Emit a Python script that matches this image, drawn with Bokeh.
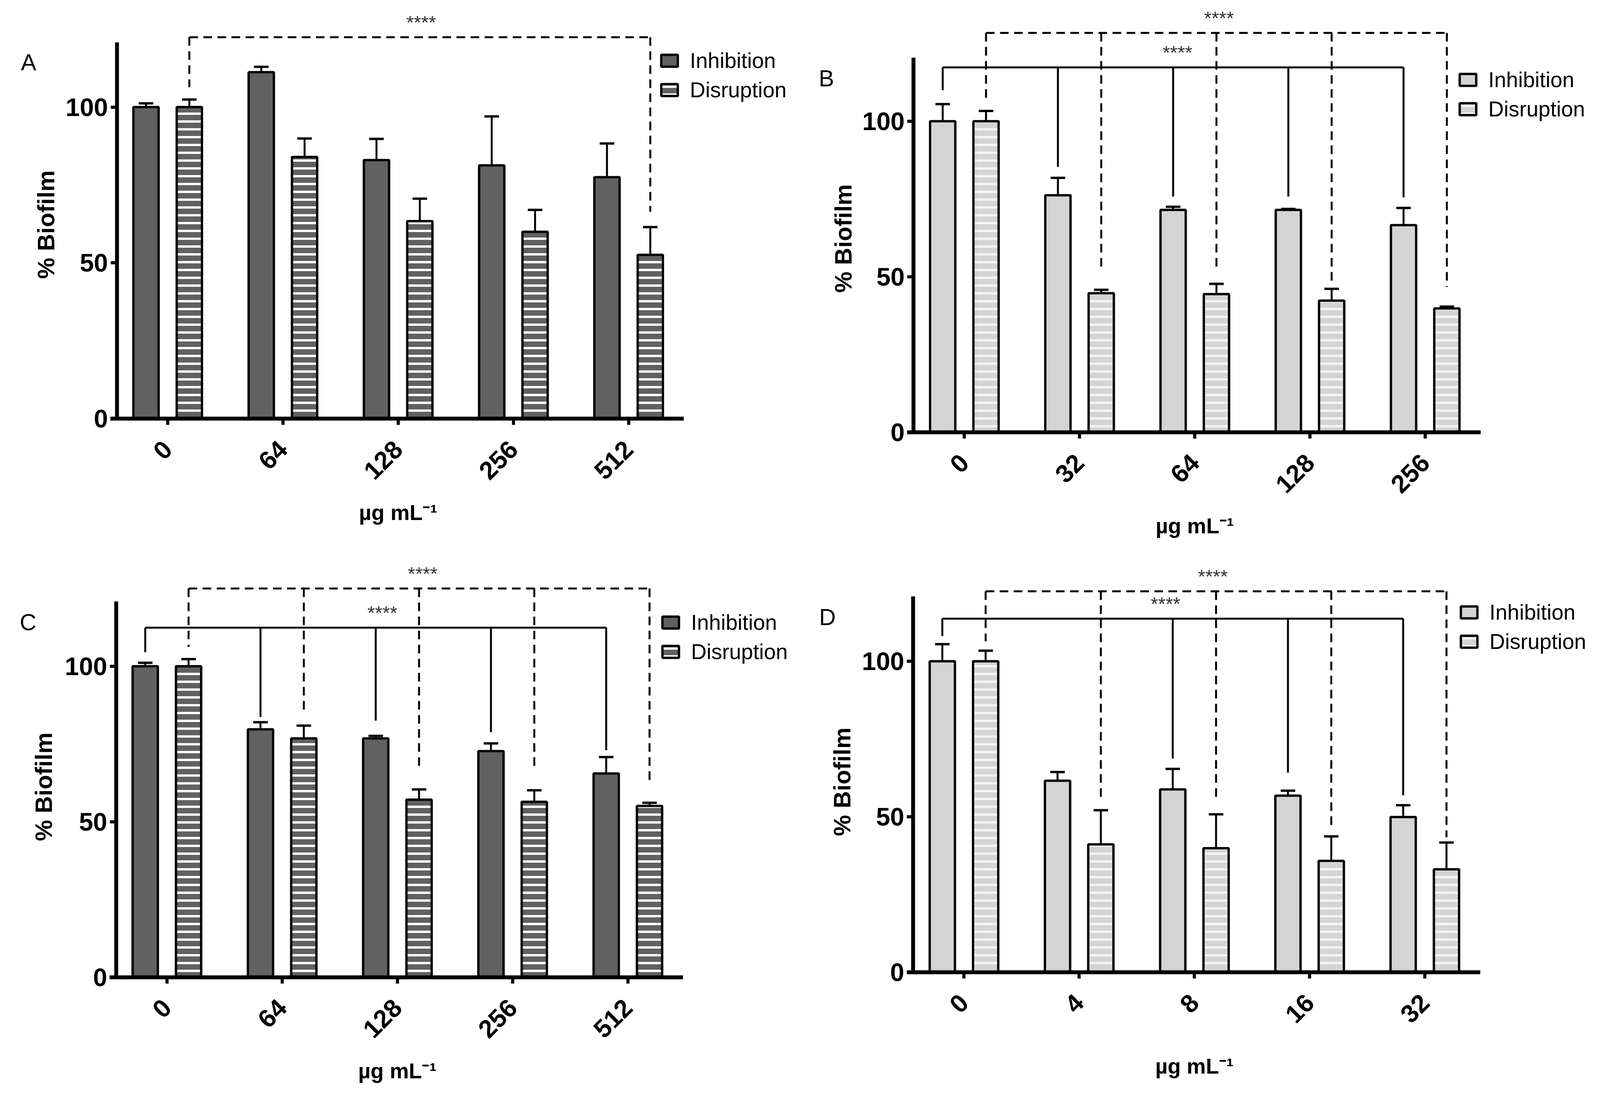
import math
from bokeh.plotting import figure
from bokeh.models import FixedTicker, Legend, LegendItem
from bokeh.layouts import row, column
from bokeh.embed import file_html
from bokeh.resources import INLINE
from bokeh.core.properties import value

FONT = "Liberation Sans"
S = 0.98  # global pixel scale


def px(v):
    return int(round(v * S))


def fs(v):
    return "%dpx" % px(v)


# ---------------- data ----------------
# Panel A
a_doses = ["0", "64", "128", "256", "512"]
a_inh = [100.0, 111.2, 83.0, 81.3, 77.5]
a_inh_err = [1.2, 1.7, 6.8, 15.7, 10.8]
a_dis = [100.0, 84.0, 63.4, 60.0, 52.6]
a_dis_err = [2.4, 5.9, 7.2, 7.0, 8.9]
a_solid_top = None
a_solid_legs = [None, None, None, None, None]
a_dash_top = 122.4
a_dash_legs = [106.4, None, None, None, 66.4]

# Panel B
b_doses = ["0", "32", "64", "128", "256"]
b_inh = [100.0, 76.2, 71.5, 71.5, 66.6]
b_inh_err = [5.5, 5.6, 1.0, 0.3, 5.5]
b_dis = [100.0, 44.7, 44.4, 42.3, 39.8]
b_dis_err = [3.3, 1.1, 3.3, 3.8, 0.6]
b_solid_top = 117.3
b_solid_legs = [110.0, 85.3, 75.8, 75.8, 75.5]
b_dash_top = 128.4
b_dash_legs = [105.9, 51.8, 51.8, 48.6, 46.7]

# Panel C
c_doses = ["0", "64", "128", "256", "512"]
c_inh = [100.0, 79.7, 76.8, 72.7, 65.5]
c_inh_err = [1.1, 2.3, 0.8, 2.5, 5.3]
c_dis = [100.0, 76.8, 57.1, 56.4, 55.1]
c_dis_err = [2.3, 4.1, 3.3, 3.7, 1.0]
c_solid_top = 112.4
c_solid_legs = [104.5, 83.7, 82.5, 78.8, 73.0]
c_dash_top = 125.0
c_dash_legs = [106.2, 85.7, 67.1, 67.1, 63.1]

# Panel D
d_doses = ["0", "4", "8", "16", "32"]
d_inh = [100.0, 61.6, 58.8, 56.8, 49.9]
d_inh_err = [5.5, 2.8, 6.6, 1.6, 3.8]
d_dis = [100.0, 41.1, 39.9, 35.8, 33.1]
d_dis_err = [3.4, 11.0, 10.9, 7.9, 8.6]
d_solid_top = 113.7
d_solid_legs = [108.1, None, 68.7, 64.2, 56.9]
d_dash_top = 122.5
d_dash_legs = [106.4, 55.2, 54.8, 45.6, 43.4]

series_labels = ["Inhibition", "Disruption"]
x_label = "\u00b5g mL\u207b\u00b9"
sig_label = "****"

PPX = 301.0      # pixels per category step (reference pixels)
X0 = -0.44       # data x where the y axis sits


def bracket(p, xpos, top, legs, dashed, star_x):
    pts = [(xpos[i], legs[i]) for i in range(len(legs)) if legs[i] is not None]
    if top is None or not pts:
        return
    x0 = [pts[0][0]] + [q for q, _ in pts]
    x1 = [pts[-1][0]] + [q for q, _ in pts]
    y0 = [top] + [top for _ in pts]
    y1 = [top] + [r for _, r in pts]
    kw = dict(line_color="black", line_width=px(5))
    if dashed:
        kw["line_dash"] = "%d %d" % (px(22), px(14))
    p.segment(x0=x0, y0=y0, x1=x1, y1=y1, **kw)
    p.text(x=[star_x], y=[top + 4.8], text=[sig_label], text_align="center",
           text_baseline="alphabetic", text_font=value(FONT),
           text_font_size=fs(50), text_color="#333333")


def make_panel(letter, doses, inh, inh_err, dis, dis_err, s_top, s_legs, d_top, d_legs,
               inh_color, stripe_color, geo, ylabel):
    sx, sy = geo["shift"]
    ox, oy, W, H = geo["origin_x"], geo["origin_y"], geo["W"], geo["H"]
    yax, y0, ppy = geo["yaxis_x"] + sx, geo["y0"] + sy, geo["ppy"]

    def dx(page_x):
        return X0 + (page_x + sx - yax) / PPX

    def dy(page_y):
        return (y0 - page_y - sy) / ppy

    x_start = X0 + (ox - yax) / PPX
    x_end = X0 + (ox + W - yax) / PPX
    y_end = (y0 - oy) / ppy
    y_start = (y0 - oy - H) / ppy
    xs = list(range(len(doses)))
    p = figure(width=px(W), height=px(H), x_range=(x_start, x_end), y_range=(y_start, y_end),
               output_backend="svg", toolbar_location=None,
               min_border_left=0, min_border_right=0, min_border_top=0, min_border_bottom=0)
    p.outline_line_color = None
    p.grid.visible = False
    p.background_fill_color = "white"
    p.border_fill_color = "white"

    off, bw, cap = 0.188, 0.219, 0.063
    xi = [x - off for x in xs]
    xd = [x + off for x in xs]
    r_inh = p.vbar(x=xi, top=inh, bottom=0, width=bw, fill_color=inh_color,
                   line_color="black", line_width=px(6))
    r_dis = p.vbar(x=xd, top=dis, bottom=0, width=bw, fill_color=inh_color,
                   line_color="black", line_width=px(6), hatch_pattern="horizontal_line",
                   hatch_color=stripe_color, hatch_scale=px(20), hatch_weight=px(6))
    for xc, m, e in ((xi, inh, inh_err), (xd, dis, dis_err)):
        tops = [mm + ee for mm, ee in zip(m, e)]
        p.segment(x0=xc, y0=m, x1=xc, y1=tops, line_color="black", line_width=px(5))
        p.segment(x0=[x - cap for x in xc], y0=tops, x1=[x + cap for x in xc], y1=tops,
                  line_color="black", line_width=px(6))

    bracket(p, xi, s_top, s_legs, False, geo["stars"][0])
    bracket(p, xd, d_top, d_legs, True, geo["stars"][1])

    gl, lb = geo["legend"]
    legend = Legend(items=[LegendItem(label=series_labels[0], renderers=[r_inh]),
                           LegendItem(label=series_labels[1], renderers=[r_dis])],
                    location=(px(gl + sx - ox), px(oy + H - lb - sy)), glyph_width=px(54),
                    glyph_height=px(39), label_standoff=px(27), spacing=px(11),
                    padding=0, margin=0, border_line_color=None, background_fill_alpha=0,
                    label_text_font=FONT, label_text_font_size=fs(56),
                    label_text_color="black", label_text_baseline="middle")
    p.add_layout(legend)

    # panel letter, y-axis title and x-axis title
    lx, ly = geo["letter"]
    p.text(x=[dx(lx)], y=[dy(ly)], text=[letter], text_align="left",
           text_baseline="alphabetic", text_font=value(FONT), text_font_size=fs(60),
           text_color="black")
    p.text(x=[dx(geo["ylabel_x"])], y=[62.3], text=[ylabel], angle=math.pi / 2,
           text_align="center", text_baseline="middle", text_font=value(FONT),
           text_font_size=fs(62), text_font_style="bold", text_color="black")
    p.text(x=[2.0], y=[-245.0 / ppy], text=[x_label], text_align="center",
           text_baseline="alphabetic", text_font=value(FONT), text_font_size=fs(56),
           text_font_style="bold", text_color="black")

    for ax in (p.xaxis[0], p.yaxis[0]):
        ax.axis_line_width = px(10)
        ax.axis_line_color = "black"
        ax.major_tick_line_width = px(8)
        ax.major_tick_out = px(16)
        ax.major_tick_in = 0
        ax.minor_tick_out = 0
        ax.minor_tick_in = 0
        ax.minor_tick_line_color = None
        ax.major_label_text_font = FONT
        ax.major_label_text_font_style = "bold"
        ax.major_label_text_font_size = fs(66)
        ax.major_label_text_color = "black"

    p.xaxis.fixed_location = 0
    p.xaxis.ticker = FixedTicker(ticks=xs)
    p.xaxis.major_label_overrides = {i: d for i, d in enumerate(doses)}
    p.xaxis.major_label_orientation = math.pi / 4
    p.xaxis.major_label_standoff = px(52)
    p.xaxis.bounds = (X0 - 17 / PPX, 4.48)

    p.yaxis.fixed_location = X0
    p.yaxis.ticker = FixedTicker(ticks=[0, 50, 100])
    p.yaxis.bounds = (0, geo["ytop"])
    p.yaxis.major_label_standoff = px(7)
    return p


geoA = dict(origin_x=8, origin_y=8, W=2062, H=1422, yaxis_x=305, y0=1094, ppy=8.14,
            ytop=120.8, legend=(1721, 268), letter=(54, 164), ylabel_x=120,
            stars=(None, 2.20), shift=(8, 7))
geoB = dict(origin_x=2070, origin_y=8, W=2087, H=1422, yaxis_x=2381, y0=1129, ppy=8.12,
            ytop=120.4, legend=(3802, 318), letter=(2133, 206), ylabel_x=2197,
            stars=(1.85, 2.21), shift=(13, 7))
geoC = dict(origin_x=8, origin_y=1430, W=2062, H=1421, yaxis_x=303, y0=2552, ppy=8.12,
            ytop=120.8, legend=(1724, 1735), letter=(51, 1625), ylabel_x=114,
            stars=(1.87, 2.22), shift=(8, 7))
geoD = dict(origin_x=2070, origin_y=1430, W=2087, H=1421, yaxis_x=2380, y0=2539, ppy=8.12,
            ytop=120.9, legend=(3805, 1708), letter=(2134, 1612), ylabel_x=2194,
            stars=(1.75, 2.16), shift=(13, 7))

pA = make_panel("A", a_doses, a_inh, a_inh_err, a_dis, a_dis_err, a_solid_top, a_solid_legs,
                a_dash_top, a_dash_legs, "#616161", "white", geoA, "% Biofilm")
pB = make_panel("B", b_doses, b_inh, b_inh_err, b_dis, b_dis_err, b_solid_top, b_solid_legs,
                b_dash_top, b_dash_legs, "#d4d4d4", "#f4f4f4", geoB, "% Biofilm")
pC = make_panel("C", c_doses, c_inh, c_inh_err, c_dis, c_dis_err, c_solid_top, c_solid_legs,
                c_dash_top, c_dash_legs, "#616161", "white", geoC, "%  Biofilm")
pD = make_panel("D", d_doses, d_inh, d_inh_err, d_dis, d_dis_err, d_solid_top, d_solid_legs,
                d_dash_top, d_dash_legs, "#d4d4d4", "#f4f4f4", geoD, "%  Biofilm")

layout = column(row(pA, pB), row(pC, pD))
open("out.html", "w").write(file_html(layout, INLINE))
